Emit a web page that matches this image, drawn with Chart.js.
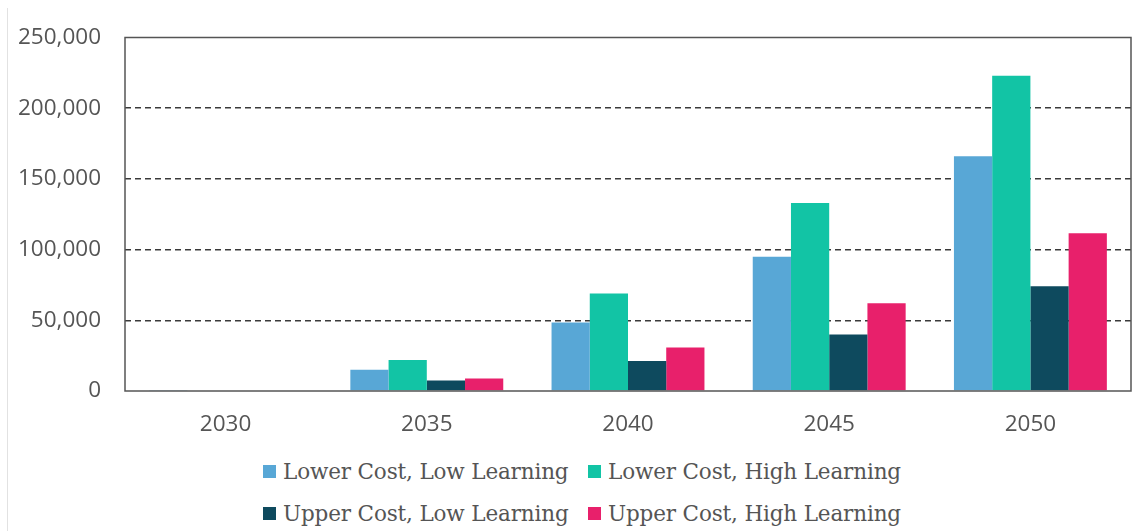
<!DOCTYPE html>
<html>
<head>
<meta charset="utf-8">
<script src="https://cdn.jsdelivr.net/npm/chart.js@4"></script>
<style>
body{margin:0;background:#fff;}
#wrap{position:relative;width:1135px;height:531px;}
#edge{position:absolute;left:7px;top:8px;width:0;height:523px;border-left:1px solid #e2e2e2;}
#box{position:absolute;left:0;top:0;width:1135px;height:445px;}
#legend{position:absolute;left:263px;top:456px;display:grid;grid-template-columns:325px auto;row-gap:12px;
  font-family:"DejaVu Serif",serif;font-size:21.5px;letter-spacing:-0.15px;color:#555;}
#legend div{display:flex;align-items:center;height:30px;white-space:nowrap;}
#legend span.sw{display:inline-block;width:13px;height:13px;margin-right:7px;}
</style>
</head>
<body>
<div id="wrap">
<div id="edge"></div>
<div id="box"><canvas id="Chart1"></canvas></div>
<div id="legend"></div>
</div>
<script>
var years = ['2030','2035','2040','2045','2050'];
var seriesNames = ['Lower Cost, Low Learning','Lower Cost, High Learning','Upper Cost, Low Learning','Upper Cost, High Learning'];
var lowerLow  = [300, 15000, 48500, 95000, 166000];
var lowerHigh = [500, 22000, 69000, 133000, 223000];
var upperLow  = [0, 7500, 21300, 40000, 74000];
var upperHigh = [0, 8800, 30800, 62000, 111500];
var colours = ['#58a7d6','#12c4a5','#0e4a5e','#e8206b'];
var yTicks = [0, 50000, 100000, 150000, 200000, 250000];

var frame = {
    id: 'frame',
    afterDraw: function (chart) {
        var a = chart.chartArea, c = chart.ctx;
        c.save();
        c.strokeStyle = '#555';
        c.lineWidth = 1.5;
        c.strokeRect(a.left, a.top, a.right - a.left, a.bottom - a.top);
        c.restore();
    }
};

window.onload = function () {
    var vals = [lowerLow, lowerHigh, upperLow, upperHigh];
    var ds = [];
    for (var i = 0; i < vals.length; i++) {
        ds.push({label: seriesNames[i], data: vals[i], backgroundColor: colours[i], borderWidth: 0,
                 categoryPercentage: 0.76, barPercentage: 1.0});
    }
    var ctx = document.getElementById('Chart1').getContext('2d');
    var chart = new Chart(ctx, {
        type: 'bar',
        data: {labels: years, datasets: ds},
        plugins: [frame],
        options: {
            responsive: true, maintainAspectRatio: false, animation: false,
            layout: {padding: {top: 36, right: 4, bottom: 0, left: 0}},
            plugins: {legend: {display: false}, tooltip: {enabled: false}},
            scales: {
                x: {
                    afterFit: function (s) { s.height = 54; },
                    grid: {display: false, drawTicks: false},
                    border: {display: false},
                    ticks: {padding: 20, color: '#555', font: {family: '"Open Sans"', size: 22.5}}
                },
                y: {
                    min: 0, max: 250000,
                    afterFit: function (s) { s.width = 125; },
                    afterBuildTicks: function (s) { s.ticks = yTicks.map(function (v) { return {value: v}; }); },
                    border: {display: false, dash: [6, 4]},
                    grid: {
                        drawTicks: false,
                        color: function (c) { return (c.tick && (c.tick.value === 0 || c.tick.value === 250000)) ? 'rgba(0,0,0,0)' : '#3a3a3a'; },
                        lineWidth: 1.5
                    },
                    ticks: {
                        padding: 24, color: '#555', font: {family: '"Open Sans"', size: 22.5},
                        callback: function (v) { return v.toLocaleString('en-US'); }
                    }
                }
            }
        }
    });
    var leg = document.getElementById('legend');
    for (var j = 0; j < seriesNames.length; j++) {
        var d = document.createElement('div');
        d.innerHTML = '<span class="sw" style="background:' + colours[j] + '"></span>' + seriesNames[j];
        leg.appendChild(d);
    }
};
</script>
</body>
</html>
